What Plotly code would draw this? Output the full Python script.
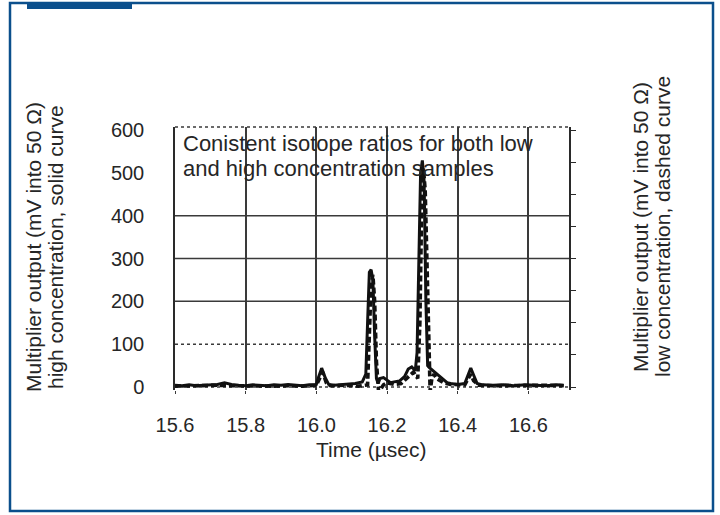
import plotly.graph_objects as go

# ---------------- data ----------------
time_high = [15.60, 15.62, 15.64, 15.66, 15.68, 15.70, 15.72, 15.74, 15.76, 15.78,
             15.80, 15.82, 15.84, 15.86, 15.88, 15.90, 15.92, 15.94, 15.96, 15.98,
             16.00, 16.005, 16.015, 16.025, 16.035, 16.05, 16.07, 16.09, 16.11, 16.13,
             16.14, 16.145, 16.15, 16.155, 16.16, 16.165, 16.17, 16.175, 16.18, 16.19,
             16.20, 16.21, 16.22, 16.235, 16.25, 16.26, 16.27, 16.28, 16.285, 16.29,
             16.295, 16.30, 16.305, 16.31, 16.315, 16.32, 16.33, 16.34, 16.35, 16.36,
             16.37, 16.38, 16.40, 16.42, 16.43, 16.437, 16.445, 16.455, 16.47, 16.50,
             16.53, 16.56, 16.59, 16.62, 16.65, 16.68, 16.70]
signal_high = [4, 3, 5, 3, 4, 5, 6, 10, 6, 4,
               3, 5, 4, 3, 5, 4, 6, 4, 3, 5,
               6, 20, 44, 22, 6, 4, 5, 7, 8, 12,
               30, 150, 268, 274, 250, 120, 20, 8, 20, 22,
               15, 10, 12, 14, 25, 42, 47, 38, 80, 330,
               500, 529, 480, 200, 50, 45, 38, 30, 22, 15,
               10, 8, 6, 8, 30, 44, 28, 8, 5, 4,
               5, 3, 5, 4, 3, 5, 4]

time_low = [15.60, 15.64, 15.68, 15.72, 15.76, 15.80, 15.84, 15.88, 15.92, 15.96,
            16.00, 16.01, 16.018, 16.028, 16.04, 16.08, 16.12, 16.145, 16.150, 16.155,
            16.160, 16.165, 16.170, 16.176, 16.182, 16.19, 16.20, 16.22, 16.24, 16.26,
            16.275, 16.287, 16.293, 16.298, 16.303, 16.308, 16.313, 16.318, 16.322, 16.327,
            16.333, 16.34, 16.36, 16.38, 16.42, 16.43, 16.437, 16.445, 16.46, 16.50,
            16.55, 16.60, 16.65, 16.70]
signal_low = [2, 3, 2, 4, 3, 2, 3, 2, 3, 2,
              4, 20, 35, 10, 3, 4, 2, 5, 100, 240,
              262, 200, 60, -10, -5, 5, 10, 6, 8, 25,
              35, 20, 150, 420, 510, 460, 300, 100, -10, 20,
              30, 20, 10, 6, 5, 20, 30, 15, 4, 3,
              4, 3, 4, 3]

y_tick_values = [0, 100, 200, 300, 400, 500, 600]
solid_grid_levels = [200, 300, 400]
dotted_grid_levels = [0, 100]

note_lines = ["Conistent isotope ratios for both low",
              "and high concentration samples"]
left_title_lines = ["Multiplier output (mV into 50 Ω)",
                    "high concentration, solid curve"]
right_title_lines = ["Multiplier output (mV into 50 Ω)",
                     "low concentration, dashed curve"]
x_title = "Time (µsec)"

# ---------------- layout geometry ----------------
W, H = 720, 515
L, R, T, B = 175, 569, 127, 390   # plot-area pixel box
FONT = "Liberation Sans, Arial, Helvetica, sans-serif"
TXT = "#262626"
BLUE = "#0b4f8c"


def px_x(p):
    return (p - L) / (R - L)


def px_y(p):
    return (B - p) / (B - T)


fig = go.Figure()
fig.add_trace(go.Scatter(x=time_high, y=signal_high, mode="lines",
                         line=dict(color="#111111", width=3),
                         name="high", showlegend=False))
fig.add_trace(go.Scatter(x=time_low, y=signal_low, mode="lines", yaxis="y2",
                         line=dict(color="#111111", width=3.6, dash="6px,3px"),
                         name="low", showlegend=False))

for lv in solid_grid_levels:
    fig.add_shape(type="line", xref="paper", x0=0, x1=1, yref="y", y0=lv, y1=lv,
                  line=dict(color="#3a3a3a", width=1.5), layer="below")
for lv in dotted_grid_levels:
    fig.add_shape(type="line", xref="paper", x0=0, x1=1, yref="y", y0=lv, y1=lv,
                  line=dict(color="#3a3a3a", width=1.5, dash="dot"), layer="below")
fig.add_shape(type="line", xref="paper", x0=0, x1=1, yref="paper", y0=1, y1=1,
              line=dict(color="#3a3a3a", width=1.5, dash="dot"), layer="below")

# page frame and blue tab
fig.add_shape(type="rect", xref="paper", yref="paper",
              x0=px_x(10), x1=px_x(713), y0=px_y(511), y1=px_y(3),
              line=dict(color=BLUE, width=2.5), fillcolor="rgba(0,0,0,0)")
fig.add_shape(type="rect", xref="paper", yref="paper",
              x0=px_x(27), x1=px_x(132), y0=px_y(9), y1=px_y(2),
              line=dict(width=0), fillcolor=BLUE)


def text(t, xp, yp, size, angle=0, xanchor="center"):
    fig.add_annotation(text=t, xref="paper", yref="paper", x=px_x(xp), y=px_y(yp),
                       xanchor=xanchor, yanchor="middle", textangle=angle,
                       showarrow=False, font=dict(family=FONT, size=size, color=TXT))


for line_text, yc in zip(note_lines, [143, 168]):
    text(line_text, 181, yc, 22, xanchor="left")
for line_text, xc in zip(left_title_lines, [33, 55]):
    text(line_text, xc, 247, 21, angle=-90)
for line_text, xc in zip(right_title_lines, [640, 662]):
    text(line_text, xc, 227, 21, angle=-90)
text(x_title, 371, 449, 21)

fig.update_layout(
    width=W, height=H,
    margin=dict(l=L, r=W - R, t=T, b=H - B),
    paper_bgcolor="white", plot_bgcolor="white",
    font=dict(family=FONT, color=TXT),
    xaxis=dict(range=[15.6, 16.715], tick0=15.6, dtick=0.2, tickformat=".1f",
               showgrid=True, gridcolor="#3a3a3a", gridwidth=1.5,
               zeroline=False, showline=False, ticks="outside", ticklen=3,
               tickcolor="#3a3a3a", ticklabelstandoff=14,
               tickfont=dict(size=20, color=TXT)),
    yaxis=dict(range=[-7, 607], tickvals=y_tick_values, showgrid=False,
               zeroline=False, showline=True, linecolor="#2a2a2a", linewidth=1.5,
               ticks="", ticklabelstandoff=25,
               tickfont=dict(size=20, color=TXT)),
    yaxis2=dict(range=[-7, 607], dtick=75, overlaying="y", side="right",
                showgrid=False, zeroline=False, showline=True,
                linecolor="#2a2a2a", linewidth=1.5, ticks="outside", ticklen=5,
                tickcolor="#2a2a2a", showticklabels=False),
)

fig.write_html("out.html")
